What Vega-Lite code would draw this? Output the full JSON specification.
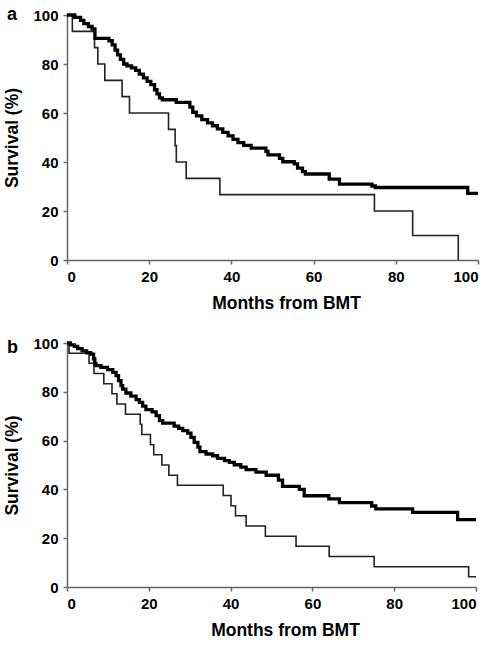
{
  "$schema": "https://vega.github.io/schema/vega-lite/v6.json",
  "padding": {"left": 3, "top": 5, "right": 5, "bottom": 5},
  "spacing": 24,
  "config": {
    "view": {"stroke": null},
    "font": "Liberation Sans",
    "axis": {
      "grid": false,
      "domainColor": "#666666",
      "domainWidth": 1.5,
      "tickColor": "#666666",
      "tickWidth": 1.5,
      "tickSize": 4,
      "labelColor": "#000000",
      "labelFont": "Liberation Sans",
      "labelFontSize": 15,
      "labelFontWeight": "bold",
      "labelPadding": 5,
      "titleColor": "#000000",
      "titleFont": "Liberation Sans",
      "titleFontSize": 17.5,
      "titleFontWeight": "bold"
    },
    "title": {"font": "Liberation Sans", "fontSize": 18, "fontWeight": "bold", "color": "#000000", "anchor": "start", "frame": "bounds", "baseline": "alphabetic", "offset": 0}
  },
  "datasets": {
    "km": [
      {"p": "a", "g": "thin", "m": 0, "s": 100},
      {"p": "a", "g": "thin", "m": 1.3, "s": 93.3},
      {"p": "a", "g": "thin", "m": 6.7, "s": 86.7},
      {"p": "a", "g": "thin", "m": 7.5, "s": 80},
      {"p": "a", "g": "thin", "m": 9.2, "s": 73.3},
      {"p": "a", "g": "thin", "m": 13.4, "s": 66.7},
      {"p": "a", "g": "thin", "m": 15.2, "s": 60},
      {"p": "a", "g": "thin", "m": 24.7, "s": 53.3},
      {"p": "a", "g": "thin", "m": 26.3, "s": 46.7},
      {"p": "a", "g": "thin", "m": 26.6, "s": 40},
      {"p": "a", "g": "thin", "m": 29, "s": 33.3},
      {"p": "a", "g": "thin", "m": 37.2, "s": 26.7},
      {"p": "a", "g": "thin", "m": 74.8, "s": 20},
      {"p": "a", "g": "thin", "m": 84.1, "s": 10},
      {"p": "a", "g": "thin", "m": 95.2, "s": 0},
      {"p": "a", "g": "thick", "m": 0, "s": 100},
      {"p": "a", "g": "thick", "m": 1.9, "s": 99},
      {"p": "a", "g": "thick", "m": 3.3, "s": 97.8},
      {"p": "a", "g": "thick", "m": 4.1, "s": 96.5},
      {"p": "a", "g": "thick", "m": 5.2, "s": 95.3},
      {"p": "a", "g": "thick", "m": 6.1, "s": 94.3},
      {"p": "a", "g": "thick", "m": 6.8, "s": 90.5},
      {"p": "a", "g": "thick", "m": 10.2, "s": 89.5},
      {"p": "a", "g": "thick", "m": 11, "s": 87.8},
      {"p": "a", "g": "thick", "m": 11.7, "s": 85.7},
      {"p": "a", "g": "thick", "m": 12.3, "s": 83.7},
      {"p": "a", "g": "thick", "m": 13, "s": 81.9},
      {"p": "a", "g": "thick", "m": 13.8, "s": 80},
      {"p": "a", "g": "thick", "m": 14.6, "s": 79.2},
      {"p": "a", "g": "thick", "m": 15.7, "s": 78.4},
      {"p": "a", "g": "thick", "m": 16.7, "s": 77.4},
      {"p": "a", "g": "thick", "m": 17.6, "s": 75.9},
      {"p": "a", "g": "thick", "m": 18.6, "s": 74.3},
      {"p": "a", "g": "thick", "m": 19.5, "s": 72.9},
      {"p": "a", "g": "thick", "m": 20.4, "s": 71.6},
      {"p": "a", "g": "thick", "m": 21.3, "s": 69.5},
      {"p": "a", "g": "thick", "m": 21.9, "s": 67.8},
      {"p": "a", "g": "thick", "m": 22.5, "s": 66.2},
      {"p": "a", "g": "thick", "m": 23.2, "s": 65.4},
      {"p": "a", "g": "thick", "m": 26.6, "s": 64.3},
      {"p": "a", "g": "thick", "m": 29.9, "s": 62.4},
      {"p": "a", "g": "thick", "m": 30.6, "s": 60.3},
      {"p": "a", "g": "thick", "m": 31.5, "s": 58.8},
      {"p": "a", "g": "thick", "m": 32.8, "s": 57.3},
      {"p": "a", "g": "thick", "m": 34.2, "s": 56},
      {"p": "a", "g": "thick", "m": 35.4, "s": 54.8},
      {"p": "a", "g": "thick", "m": 36.6, "s": 53.5},
      {"p": "a", "g": "thick", "m": 37.9, "s": 52.1},
      {"p": "a", "g": "thick", "m": 39.2, "s": 50.7},
      {"p": "a", "g": "thick", "m": 40.4, "s": 49.2},
      {"p": "a", "g": "thick", "m": 41.6, "s": 47.9},
      {"p": "a", "g": "thick", "m": 43, "s": 46.8},
      {"p": "a", "g": "thick", "m": 44.8, "s": 45.7},
      {"p": "a", "g": "thick", "m": 48.4, "s": 44.3},
      {"p": "a", "g": "thick", "m": 48.9, "s": 42.9},
      {"p": "a", "g": "thick", "m": 51.7, "s": 41.5},
      {"p": "a", "g": "thick", "m": 52.5, "s": 40.1},
      {"p": "a", "g": "thick", "m": 55.3, "s": 39.2},
      {"p": "a", "g": "thick", "m": 56.1, "s": 37.5},
      {"p": "a", "g": "thick", "m": 57.3, "s": 36.1},
      {"p": "a", "g": "thick", "m": 58, "s": 35.1},
      {"p": "a", "g": "thick", "m": 63.8, "s": 33},
      {"p": "a", "g": "thick", "m": 66.3, "s": 31},
      {"p": "a", "g": "thick", "m": 74.2, "s": 30.2},
      {"p": "a", "g": "thick", "m": 75, "s": 29.6},
      {"p": "a", "g": "thick", "m": 97.5, "s": 27.2},
      {"p": "a", "g": "thick", "m": 100, "s": 27.2},
      {"p": "b", "g": "thin", "m": 0, "s": 100},
      {"p": "b", "g": "thin", "m": 0.5, "s": 95.8},
      {"p": "b", "g": "thin", "m": 5.4, "s": 91.7},
      {"p": "b", "g": "thin", "m": 6.6, "s": 87.5},
      {"p": "b", "g": "thin", "m": 9, "s": 83.3},
      {"p": "b", "g": "thin", "m": 11, "s": 79.2},
      {"p": "b", "g": "thin", "m": 12.2, "s": 75},
      {"p": "b", "g": "thin", "m": 14.3, "s": 70.8},
      {"p": "b", "g": "thin", "m": 17.9, "s": 66.7},
      {"p": "b", "g": "thin", "m": 18.3, "s": 62.5},
      {"p": "b", "g": "thin", "m": 20.4, "s": 58.3},
      {"p": "b", "g": "thin", "m": 21.2, "s": 54.2},
      {"p": "b", "g": "thin", "m": 23.2, "s": 50},
      {"p": "b", "g": "thin", "m": 24.9, "s": 45.8},
      {"p": "b", "g": "thin", "m": 27, "s": 41.7},
      {"p": "b", "g": "thin", "m": 38.2, "s": 37.5},
      {"p": "b", "g": "thin", "m": 40.1, "s": 33.3},
      {"p": "b", "g": "thin", "m": 41.2, "s": 29.2},
      {"p": "b", "g": "thin", "m": 43.8, "s": 25},
      {"p": "b", "g": "thin", "m": 48.5, "s": 20.8},
      {"p": "b", "g": "thin", "m": 56, "s": 16.7},
      {"p": "b", "g": "thin", "m": 64.1, "s": 12.5},
      {"p": "b", "g": "thin", "m": 75.1, "s": 8.3},
      {"p": "b", "g": "thin", "m": 98.2, "s": 4.2},
      {"p": "b", "g": "thin", "m": 100, "s": 4.2},
      {"p": "b", "g": "thick", "m": 0, "s": 100},
      {"p": "b", "g": "thick", "m": 0.8, "s": 99.2},
      {"p": "b", "g": "thick", "m": 1.8, "s": 98.6},
      {"p": "b", "g": "thick", "m": 2.6, "s": 97.7},
      {"p": "b", "g": "thick", "m": 3.7, "s": 96.8},
      {"p": "b", "g": "thick", "m": 4.8, "s": 96},
      {"p": "b", "g": "thick", "m": 5.8, "s": 95.4},
      {"p": "b", "g": "thick", "m": 6.5, "s": 93.5},
      {"p": "b", "g": "thick", "m": 6.8, "s": 91.5},
      {"p": "b", "g": "thick", "m": 7.1, "s": 90.7},
      {"p": "b", "g": "thick", "m": 8.3, "s": 90},
      {"p": "b", "g": "thick", "m": 9.9, "s": 89.1},
      {"p": "b", "g": "thick", "m": 11.2, "s": 88},
      {"p": "b", "g": "thick", "m": 12, "s": 86.6},
      {"p": "b", "g": "thick", "m": 12.6, "s": 84.6},
      {"p": "b", "g": "thick", "m": 13.2, "s": 82.5},
      {"p": "b", "g": "thick", "m": 13.6, "s": 81.1},
      {"p": "b", "g": "thick", "m": 14.4, "s": 79.5},
      {"p": "b", "g": "thick", "m": 15.6, "s": 78.2},
      {"p": "b", "g": "thick", "m": 16.9, "s": 76.8},
      {"p": "b", "g": "thick", "m": 17.7, "s": 75.7},
      {"p": "b", "g": "thick", "m": 18.5, "s": 74.1},
      {"p": "b", "g": "thick", "m": 19.3, "s": 72.7},
      {"p": "b", "g": "thick", "m": 20.8, "s": 71.8},
      {"p": "b", "g": "thick", "m": 21.8, "s": 70.2},
      {"p": "b", "g": "thick", "m": 22.6, "s": 68.2},
      {"p": "b", "g": "thick", "m": 23.4, "s": 67.2},
      {"p": "b", "g": "thick", "m": 26.2, "s": 65.9},
      {"p": "b", "g": "thick", "m": 27.3, "s": 65},
      {"p": "b", "g": "thick", "m": 28.3, "s": 64.1},
      {"p": "b", "g": "thick", "m": 29.5, "s": 63.1},
      {"p": "b", "g": "thick", "m": 30.3, "s": 61.3},
      {"p": "b", "g": "thick", "m": 31.1, "s": 59.3},
      {"p": "b", "g": "thick", "m": 32, "s": 57.3},
      {"p": "b", "g": "thick", "m": 32.5, "s": 55.5},
      {"p": "b", "g": "thick", "m": 34, "s": 54.5},
      {"p": "b", "g": "thick", "m": 35.6, "s": 53.8},
      {"p": "b", "g": "thick", "m": 36.8, "s": 52.7},
      {"p": "b", "g": "thick", "m": 38.5, "s": 51.8},
      {"p": "b", "g": "thick", "m": 39.7, "s": 51.1},
      {"p": "b", "g": "thick", "m": 40.9, "s": 50.1},
      {"p": "b", "g": "thick", "m": 42.5, "s": 49.1},
      {"p": "b", "g": "thick", "m": 43.8, "s": 48.1},
      {"p": "b", "g": "thick", "m": 46.2, "s": 47.1},
      {"p": "b", "g": "thick", "m": 48.7, "s": 45.8},
      {"p": "b", "g": "thick", "m": 51.7, "s": 43.8},
      {"p": "b", "g": "thick", "m": 52.7, "s": 41.2},
      {"p": "b", "g": "thick", "m": 56.8, "s": 40},
      {"p": "b", "g": "thick", "m": 58, "s": 37.4},
      {"p": "b", "g": "thick", "m": 64, "s": 36.1},
      {"p": "b", "g": "thick", "m": 66.6, "s": 34.6},
      {"p": "b", "g": "thick", "m": 74.5, "s": 33.2},
      {"p": "b", "g": "thick", "m": 75.5, "s": 32},
      {"p": "b", "g": "thick", "m": 84.5, "s": 30.6},
      {"p": "b", "g": "thick", "m": 95.5, "s": 27.6},
      {"p": "b", "g": "thick", "m": 100, "s": 27.6}
    ]
  },
  "data": {"name": "km"},
  "vconcat": [
    {
      "title": {"text": "a", "dy": 19.5, "dx": 3},
      "width": 411,
      "height": 245,
      "transform": [{"filter": "datum.p === 'a'"}],
      "mark": {"type": "line", "interpolate": "step-after", "clip": false},
      "encoding": {
        "x": {"field": "m", "type": "quantitative", "scale": {"domain": [0, 100], "nice": false}, "axis": {"title": "Months from BMT", "values": [0, 20, 40, 60, 80, 100], "titlePadding": 10, "titleX": 219}},
        "y": {"field": "s", "type": "quantitative", "scale": {"domain": [0, 100], "nice": false}, "axis": {"title": "Survival (%)", "values": [0, 20, 40, 60, 80, 100], "titlePadding": 11}},
        "detail": {"field": "g", "type": "nominal"},
        "strokeWidth": {"field": "g", "type": "nominal", "scale": {"domain": ["thin", "thick"], "range": [1.6, 3.3]}, "legend": null},
        "color": {"field": "g", "type": "nominal", "scale": {"domain": ["thin", "thick"], "range": ["#222222", "#000000"]}, "legend": null}
      }
    },
    {
      "title": {"text": "b", "dy": 25, "dx": 3},
      "width": 409,
      "height": 244,
      "transform": [{"filter": "datum.p === 'b'"}],
      "mark": {"type": "line", "interpolate": "step-after", "clip": false},
      "encoding": {
        "x": {"field": "m", "type": "quantitative", "scale": {"domain": [0, 100], "nice": false}, "axis": {"title": "Months from BMT", "values": [0, 20, 40, 60, 80, 100], "titlePadding": 10, "titleX": 218}},
        "y": {"field": "s", "type": "quantitative", "scale": {"domain": [0, 100], "nice": false}, "axis": {"title": "Survival (%)", "values": [0, 20, 40, 60, 80, 100], "titlePadding": 11}},
        "detail": {"field": "g", "type": "nominal"},
        "strokeWidth": {"field": "g", "type": "nominal", "scale": {"domain": ["thin", "thick"], "range": [1.6, 3.3]}, "legend": null},
        "color": {"field": "g", "type": "nominal", "scale": {"domain": ["thin", "thick"], "range": ["#222222", "#000000"]}, "legend": null}
      }
    }
  ]
}
